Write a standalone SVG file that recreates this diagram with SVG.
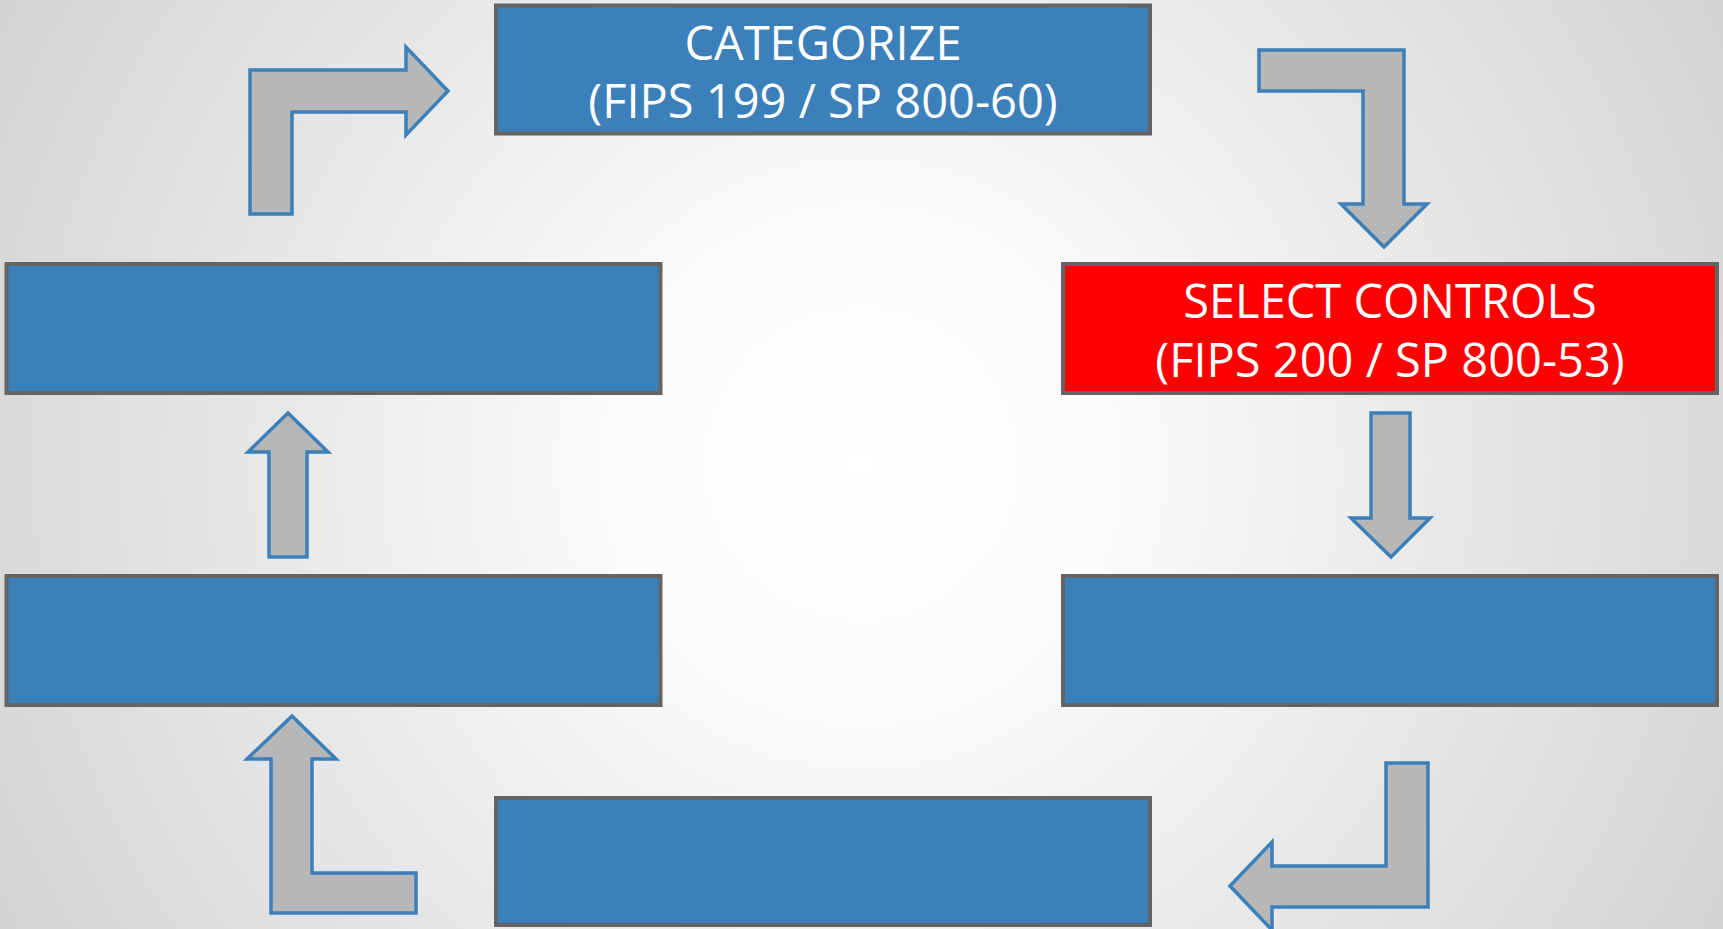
<svg xmlns="http://www.w3.org/2000/svg" width="1723" height="929" viewBox="0 0 1723 929">
  <defs>
    <radialGradient id="bg" gradientUnits="userSpaceOnUse" cx="861" cy="464" r="980">
      <stop offset="0" stop-color="#ffffff"/>
      <stop offset="0.25" stop-color="#fbfbfb"/>
      <stop offset="1" stop-color="#d3d3d3"/>
    </radialGradient>
    <style>
      .box { fill: #3b80ba; stroke: #646464; stroke-width: 4; }
      .red { fill: #ff0000; }
      .arrow { fill: #b7b7b7; stroke: #3b80ba; stroke-width: 3.5; stroke-linejoin: miter; }
      .lbl { font-family: "Open Sans", "Noto Sans", "Liberation Sans", sans-serif; font-size: 47px; fill: #ffffff; text-anchor: middle; }
    </style>
  </defs>
  <rect x="0" y="0" width="1723" height="929" fill="url(#bg)"/>

  <g id="categorize">
    <rect class="box" x="496" y="5.5" width="654" height="128"/>
    <text class="lbl" x="823" y="60">CATEGORIZE</text>
    <text class="lbl" x="823" y="118">(FIPS 199 / SP 800-60)</text>
  </g>
  <g id="select-controls">
    <rect class="box red" x="1063" y="264" width="654" height="129"/>
    <text class="lbl" x="1390" y="318">SELECT CONTROLS</text>
    <text class="lbl" x="1390" y="377">(FIPS 200 / SP 800-53)</text>
  </g>
  <g id="box-left-1">
    <rect class="box" x="6.5" y="264" width="654" height="129"/>
  </g>
  <g id="box-left-2">
    <rect class="box" x="6.5" y="576" width="654" height="129"/>
  </g>
  <g id="box-right-2">
    <rect class="box" x="1063" y="576" width="654" height="129"/>
  </g>
  <g id="box-bottom">
    <rect class="box" x="496" y="798" width="654" height="127"/>
  </g>

  <g id="connectors">
    <polygon class="arrow" points="250,214 250,70 406,70 406,47 448,91 406,135 406,112 292,112 292,214"/>
    <polygon class="arrow" points="1259,50 1404,50 1404,204 1427,204 1384,247 1341,204 1363,204 1363,91 1259,91"/>
    <polygon class="arrow" points="1371,413 1410,413 1410,518 1430,518 1391,557 1351,518 1371,518"/>
    <polygon class="arrow" points="1386,763 1428,763 1428,907 1272,907 1272,930 1230,886 1272,842 1272,866 1386,866"/>
    <polygon class="arrow" points="292,716 336,759 312,759 312,873 416,873 416,913 271,913 271,759 247,759"/>
    <polygon class="arrow" points="288,413 328,452 307,452 307,557 269,557 269,452 248,452"/>
  </g>
</svg>
